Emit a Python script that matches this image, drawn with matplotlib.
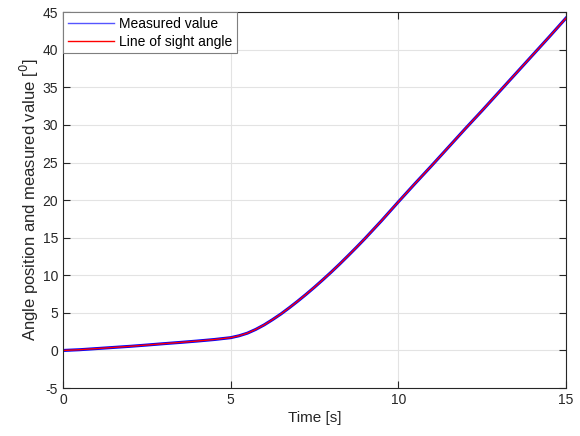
import matplotlib

matplotlib.use("Agg")
import matplotlib.pyplot as plt

plt.rcParams["font.family"] = ["Liberation Sans", "DejaVu Sans"]
plt.rcParams["axes.unicode_minus"] = False

# time axis [s] and angle traces [deg]
time_s = [0.0, 0.5, 1.0, 1.5, 2.0, 2.5, 3.0, 3.5, 4.0, 4.5,
          5.0, 5.25, 5.5, 5.75, 6.0, 6.25, 6.5, 6.75, 7.0, 7.25,
          7.5, 7.75, 8.0, 8.25, 8.5, 8.75, 9.0, 9.5, 10.0,
          10.5, 11.0, 11.5, 12.0, 12.5, 13.0, 13.5, 14.0, 14.5, 15.0]
los_angle = [0.0, 0.1, 0.25, 0.4, 0.55, 0.72, 0.9, 1.07, 1.25, 1.45,
             1.7, 1.95, 2.3, 2.8, 3.4, 4.1, 4.85, 5.68, 6.55, 7.46,
             8.41, 9.4, 10.42, 11.48, 12.58, 13.7, 14.85, 17.25, 19.75,
             22.2, 24.6, 27.05, 29.5, 31.9, 34.35, 36.8, 39.25, 41.7, 44.2]
measured = [0.0, 0.1, 0.25, 0.4, 0.55, 0.72, 0.9, 1.07, 1.25, 1.45,
            1.7, 1.95, 2.3, 2.8, 3.4, 4.1, 4.85, 5.68, 6.55, 7.46,
            8.41, 9.4, 10.42, 11.48, 12.58, 13.7, 14.85, 17.25, 19.75,
            22.2, 24.6, 27.05, 29.5, 31.9, 34.35, 36.8, 39.25, 41.7, 44.2]

x_ticks = [0, 5, 10, 15]
y_ticks = [-5, 0, 5, 10, 15, 20, 25, 30, 35, 40, 45]

fig = plt.figure(figsize=(5.8, 4.36), dpi=100)
ax = fig.add_axes([0.1086, 0.110, 0.867, 0.862])

ax.plot(time_s, measured, color="#0000ff", lw=2.2, label="Measured value")
ax.plot(time_s, los_angle, color="#ff0000", lw=1.0, label="Line of sight angle")

ax.set_xlim(0, 15)
ax.set_ylim(-5, 45)
ax.set_xticks(x_ticks)
ax.set_yticks(y_ticks)
ax.grid(True, color="#e3e3e3", lw=0.8)
ax.set_axisbelow(True)
ax.tick_params(direction="in", length=5, width=0.8, labelsize=10,
               top=True, right=True, colors="#262626")
for s in ax.spines.values():
    s.set_color("#262626")
    s.set_linewidth(0.8)

ax.set_xlabel("Time [s]", fontsize=11, color="#262626", labelpad=3)
ax.set_ylabel("Angle position and measured value [$^0$]", fontsize=12,
              color="#262626", labelpad=1)

leg = ax.legend(loc="upper left", fontsize=10, handlelength=3.3,
                fancybox=False, framealpha=1, borderaxespad=0,
                borderpad=0.35, labelspacing=0.25, handletextpad=0.4)
leg.get_frame().set_edgecolor("#7f7f7f")
leg.get_frame().set_linewidth(0.8)
for line in leg.get_lines():
    line.set_linewidth(1.0)
leg.get_lines()[0].set_color("#5555ff")

fig.savefig("out.png", dpi=100)
